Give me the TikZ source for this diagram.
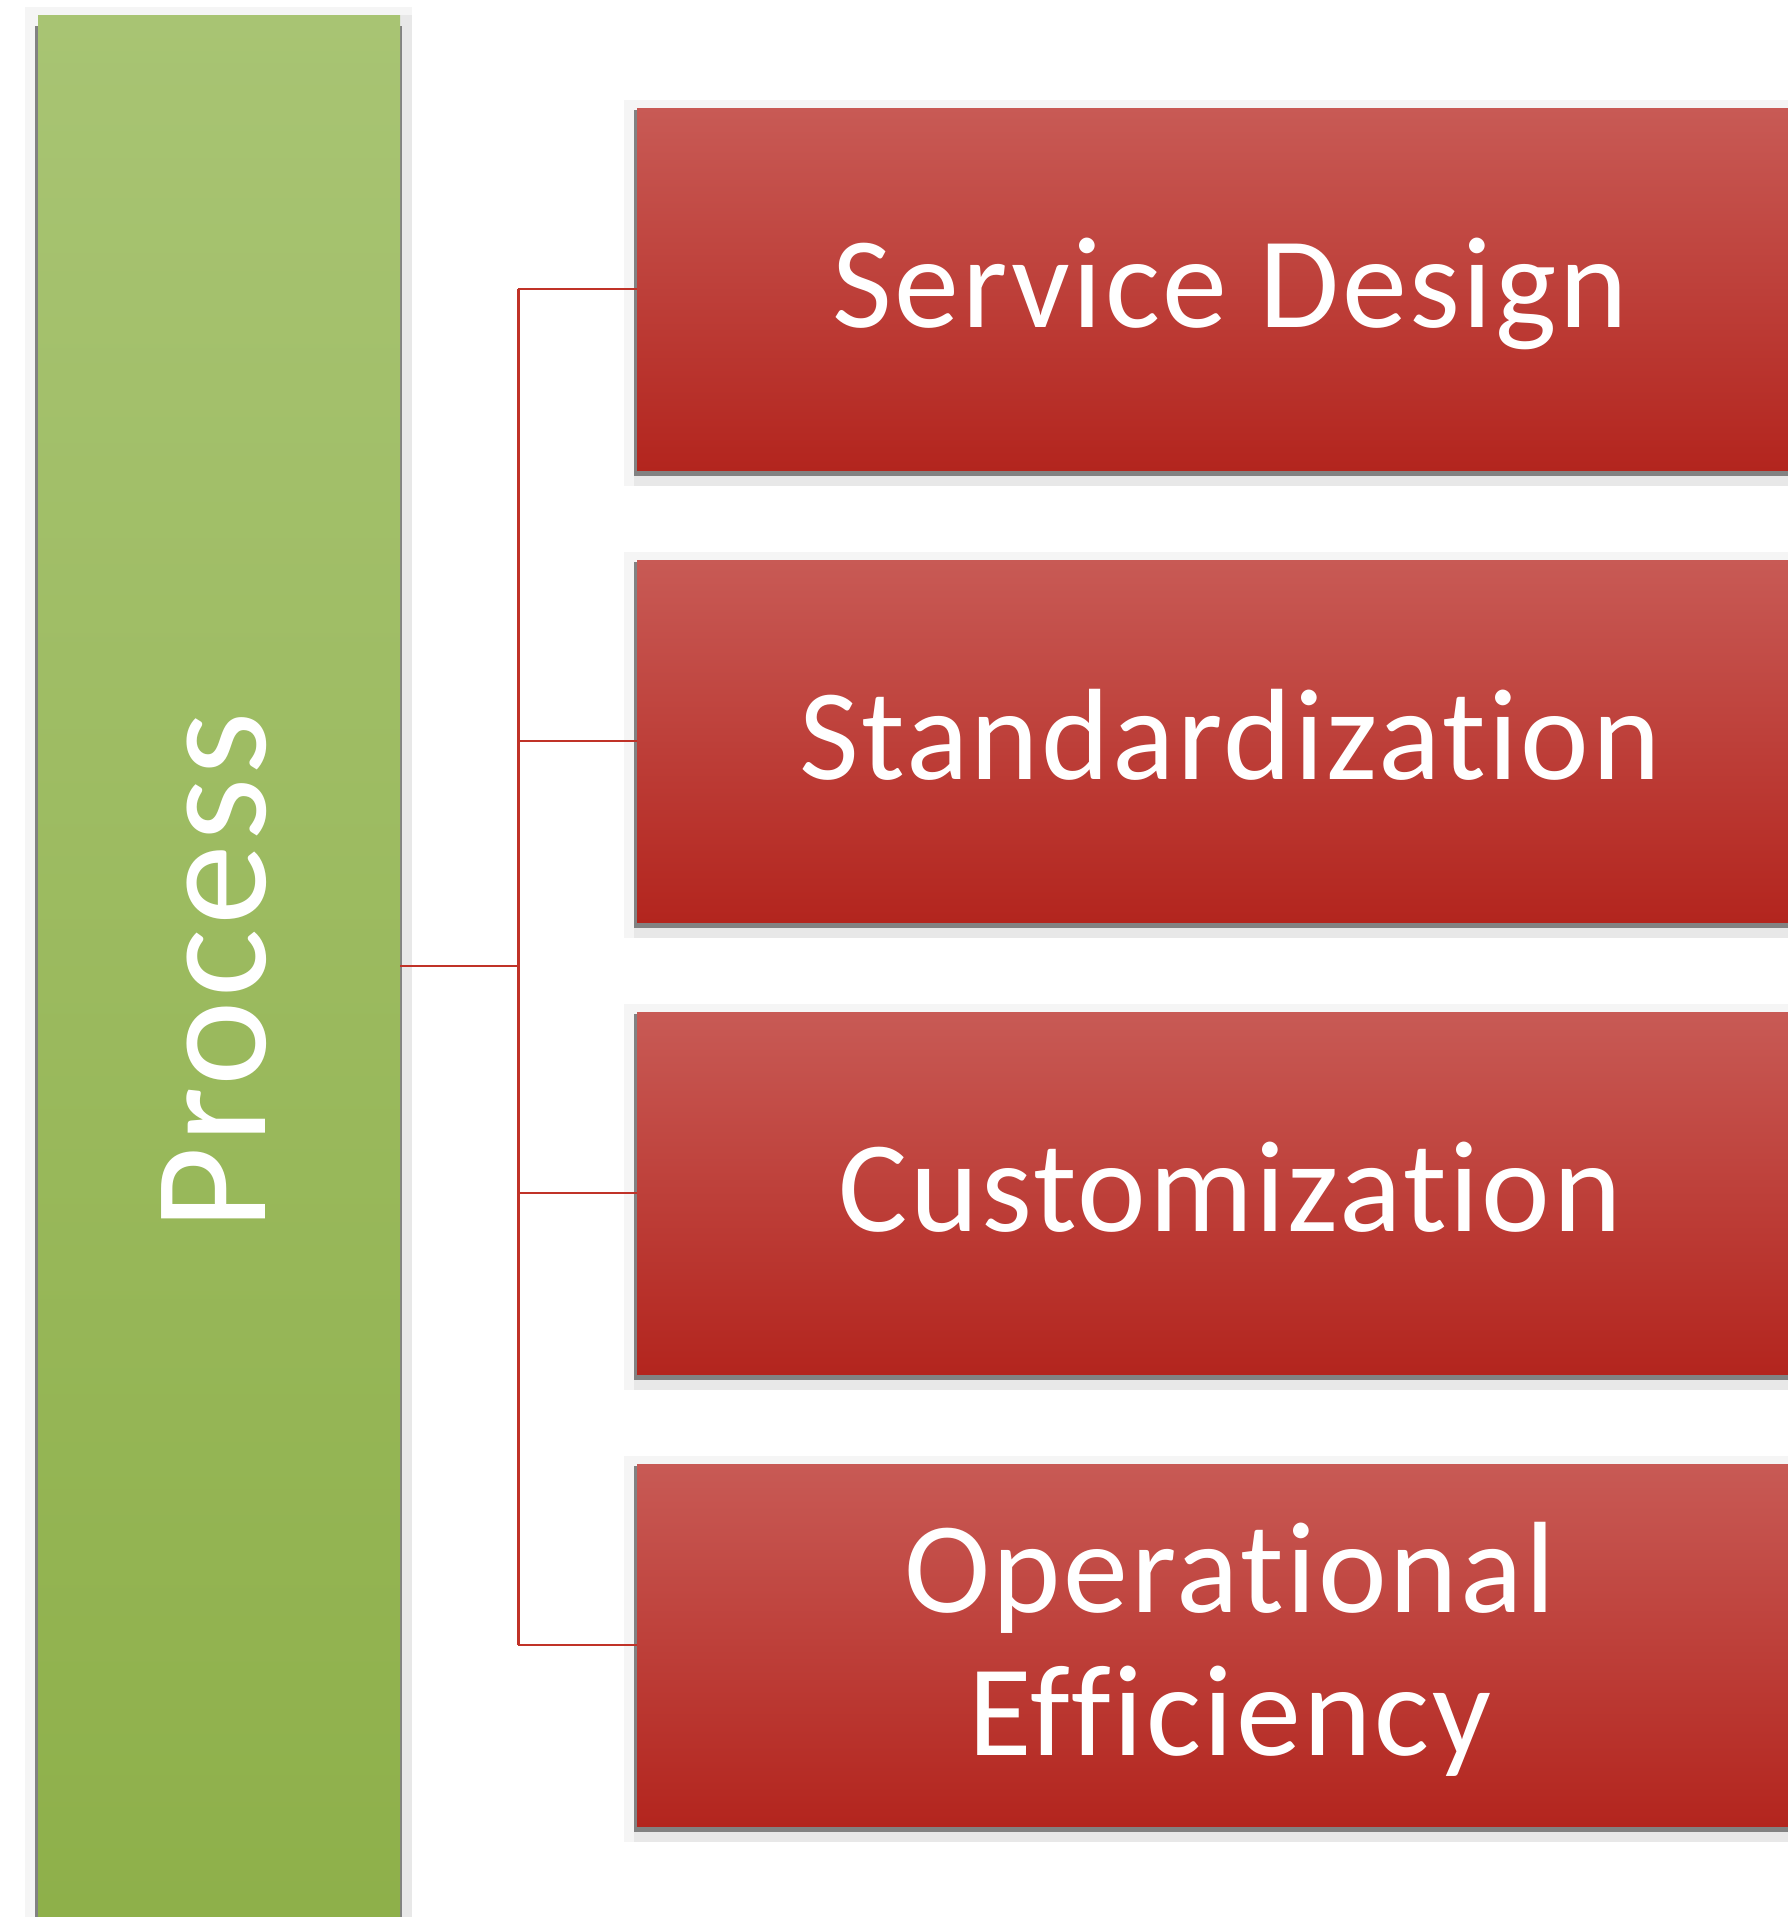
\documentclass[tikz,border=0pt]{standalone}
\usepackage{fontspec}
\setmainfont{Carlito}[Ligatures=NoCommon]
\usetikzlibrary{backgrounds}
\definecolor{redtop}{RGB}{200,90,85}
\definecolor{redmid}{RGB}{195,52,42}
\definecolor{redbot}{RGB}{179,37,30}
\definecolor{greentop}{RGB}{168,196,115}
\definecolor{greenmid}{RGB}{158,190,88}
\definecolor{greenbot}{RGB}{142,176,74}
\definecolor{linkred}{RGB}{192,50,40}
\definecolor{halogray}{RGB}{245,245,245}
\definecolor{halodark}{RGB}{232,232,232}
\definecolor{shadowgray}{RGB}{130,130,130}
\newfontfamily\boxfont{Carlito}[Ligatures=NoCommon,LetterSpace=2]
\begin{document}
\begin{tikzpicture}[x=0.5pt,y=-0.5pt,
  redbox/.style={rectangle, inner sep=0pt, minimum width=594pt, minimum height=181pt,
    top color=redtop, middle color=redmid, bottom color=redbot},
  redtext/.style={text=white, inner sep=0pt, anchor=base, font=\boxfont\fontsize{65}{72}\selectfont},
  greenbox/.style={rectangle, inner sep=0pt, minimum width=181pt, minimum height=951pt,
    top color=greentop, middle color=greenmid, bottom color=greenbot},
  link/.style={draw=linkred, line width=1.25pt}]
\useasboundingbox (0,0) rectangle (1788,1917);

\node[greenbox] (g) at (219,966) {};
\node[text=white, rotate=90, font=\boxfont\fontsize{81}{90}\selectfont] (gt) at (214,971) {Process};

\node[redbox] (r1) at (1231,289) {};
\node[redbox] (r2) at (1231,741) {};
\node[redbox] (r3) at (1231,1193) {};
\node[redbox] (r4) at (1231,1645) {};

\node[redtext] (t1) at ([xshift=-0.5pt,yshift=-19pt]r1.center) {Service Design};
\node[redtext] (t2) at ([xshift=-0.5pt,yshift=-19pt]r2.center) {Standardization};
\node[redtext] (t3) at ([xshift=-0.5pt,yshift=-19pt]r3.center) {Customization};
\node[redtext] (t4a) at ([xshift=-0.5pt,yshift=16.5pt]r4.center) {Operational};
\node[redtext] (t4b) at ([xshift=-0.5pt,yshift=-55pt]r4.center) {Efficiency};

\begin{scope}[on background layer]
  \fill[white] (0,0) rectangle (1788,1917);
  \fill[halogray] ([xshift=-6.5pt,yshift=4pt]g.north west) rectangle ([xshift=6pt,yshift=-10pt]g.south east);
  \fill[halodark] (g.north east) rectangle ([xshift=6pt,yshift=-10pt]g.south east);
  \fill[shadowgray] ([xshift=-1.5pt,yshift=-5.5pt]g.north west) rectangle ([xshift=1pt,yshift=-10pt]g.south east);
  \foreach \i in {1,2,3,4}{
    \fill[halogray] ([xshift=-6.5pt,yshift=4pt]r\i.north west) rectangle ([xshift=5pt,yshift=-8pt]r\i.south east);
    \fill[halodark] ([xshift=-1.5pt]r\i.south west) rectangle ([xshift=5pt,yshift=-8pt]r\i.south east);
    \fill[shadowgray] ([xshift=-1.5pt,yshift=-1pt]r\i.north west) rectangle ([xshift=5pt,yshift=-3pt]r\i.south east);
  }
\end{scope}

\coordinate (j) at ([xshift=59pt]g.east);
\draw[link] (g.east) -- (j);
\draw[link] (j |- r1.west) -- (j |- r4.west);
\foreach \i in {1,2,3,4}{
  \draw[link] (j |- r\i.west) -- (r\i.west);
}
\end{tikzpicture}
\end{document}
